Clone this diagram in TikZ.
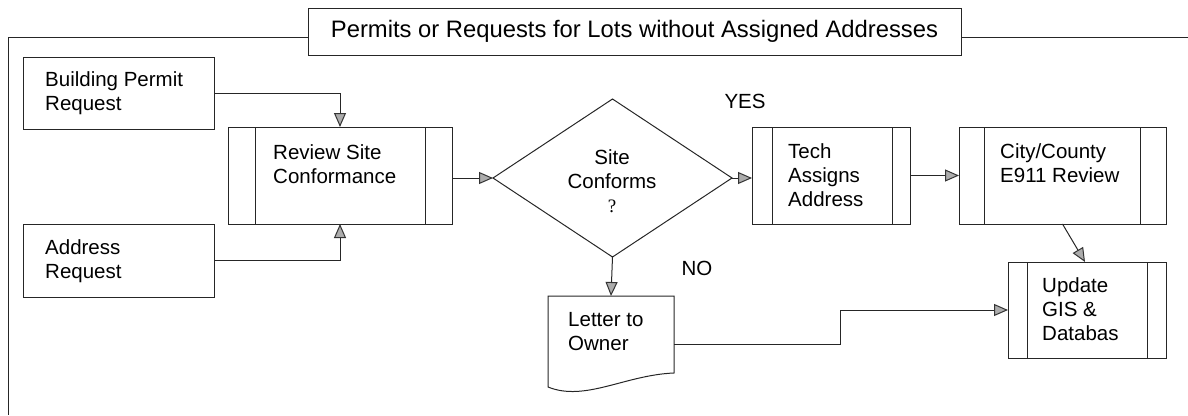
\documentclass[tikz,border=0pt]{standalone}
\usepackage{fontspec}
\setmainfont{Liberation Sans}
\newfontfamily\qfont{Liberation Serif}
\usetikzlibrary{arrows.meta,shapes.geometric,calc}
\begin{document}
\begin{tikzpicture}[x=1pt,y=-1pt,
  ln/.style={draw=black!85, line width=1pt},
  box/.style={ln, rectangle, inner sep=0pt, outer sep=0pt},
  arr/.style={ln, -{Triangle[length=14pt,width=12pt,color=gray!40!black,fill=gray!65]}},
  txt/.style={anchor=north west, inner sep=0pt, align=left, font=\fontsize{20.5}{24}\selectfont},
  ctxt/.style={anchor=north, inner sep=0pt, align=center, font=\fontsize{20.5}{24}\selectfont},
  lbl/.style={inner sep=0pt, font=\fontsize{20.5}{24}\selectfont}]
\useasboundingbox (0,0) rectangle (1188,415);

% title and frame
\node[box, minimum width=653pt, minimum height=47pt, font=\fontsize{23.8}{26}\selectfont] (title) at (634.5,31.5) {Permits or Requests for Lots without Assigned Addresses};
\coordinate (fl) at (8,37);
\coordinate (fb) at (8,415);
\coordinate (fr) at (1188,37);
\draw[ln] (title.west |- fl) -- (fl) -- (fb);
\draw[ln] (title.east |- fl) -- (fr);

% boxes
\node[box, minimum width=191pt, minimum height=72pt] (bpr) at (118.5,93) {};
\node[txt] (bprt) at (45,71) {Building Permit\\Request};

\node[box, minimum width=191pt, minimum height=73pt] (addr) at (118.5,260.5) {};
\node[txt] (addrt) at (45,239) {Address\\Request};

\node[box, minimum width=224pt, minimum height=97pt] (review) at (340,175.5) {};
\draw[ln] ([xshift=27pt]review.north west) -- ([xshift=27pt]review.south west);
\draw[ln] ([xshift=-27pt]review.north east) -- ([xshift=-27pt]review.south east);
\node[txt] (reviewt) at (273,144) {Review Site\\Conformance};

\node[diamond, ln, minimum width=239pt, minimum height=158pt, inner sep=0pt, outer sep=0pt] (dia) at (612.5,178) {};
\node[ctxt] (diat) at (612,149) {Site\\Conforms\\{\qfont\fontsize{19}{24}\selectfont ?}};

\node[box, minimum width=158pt, minimum height=97pt] (tech) at (831,175.5) {};
\draw[ln] ([xshift=20pt]tech.north west) -- ([xshift=20pt]tech.south west);
\draw[ln] ([xshift=-18pt]tech.north east) -- ([xshift=-18pt]tech.south east);
\node[txt] (techt) at (788,143) {Tech\\Assigns\\Address};

\node[box, minimum width=207pt, minimum height=97pt] (city) at (1062.5,175.5) {};
\draw[ln] ([xshift=25pt]city.north west) -- ([xshift=25pt]city.south west);
\draw[ln] ([xshift=-26pt]city.north east) -- ([xshift=-26pt]city.south east);
\node[txt] (cityt) at (1000,143) {City/County\\E911 Review};

\node[box, minimum width=158pt, minimum height=96pt] (update) at (1087,310) {};
\draw[ln] ([xshift=19pt]update.north west) -- ([xshift=19pt]update.south west);
\draw[ln] ([xshift=-19pt]update.north east) -- ([xshift=-19pt]update.south east);
\node[txt] (updatet) at (1042,277) {Update\\GIS \&\\Databas};

\node[minimum width=126pt, minimum height=96pt, inner sep=0pt, outer sep=0pt] (letter) at (611,344) {};
\draw[ln] (letter.north west) -- (letter.north east) -- ($(letter.north east)+(0,77)$)
  .. controls ($(letter.north west)+(77,79)$) and ($(letter.north west)+(37,106)$) .. ($(letter.north west)+(0,91)$) -- cycle;
\node[txt] (lettert) at (568,312) {Letter to\\Owner};

% labels
\node[lbl] (yes) at (745,101) {YES};
\node[lbl] (no) at (697,268) {NO};

% connectors
\draw[arr] (bpr.east) -| (review.north);
\draw[arr] (addr.east) -| (review.south);
\draw[arr] (review.east |- dia.west) -- (dia.west);
\draw[arr] (dia.east) -- (tech.west |- dia.east);
\draw[arr] (tech.east) -- (city.west);
\draw[arr] (city.south) -- ($(update.north)+(-2,0)$);
\draw[arr] (dia.south) -- (letter.north);
\draw[arr] (letter.east) -- ++(166,0) |- (update.west);
\end{tikzpicture}
\end{document}
